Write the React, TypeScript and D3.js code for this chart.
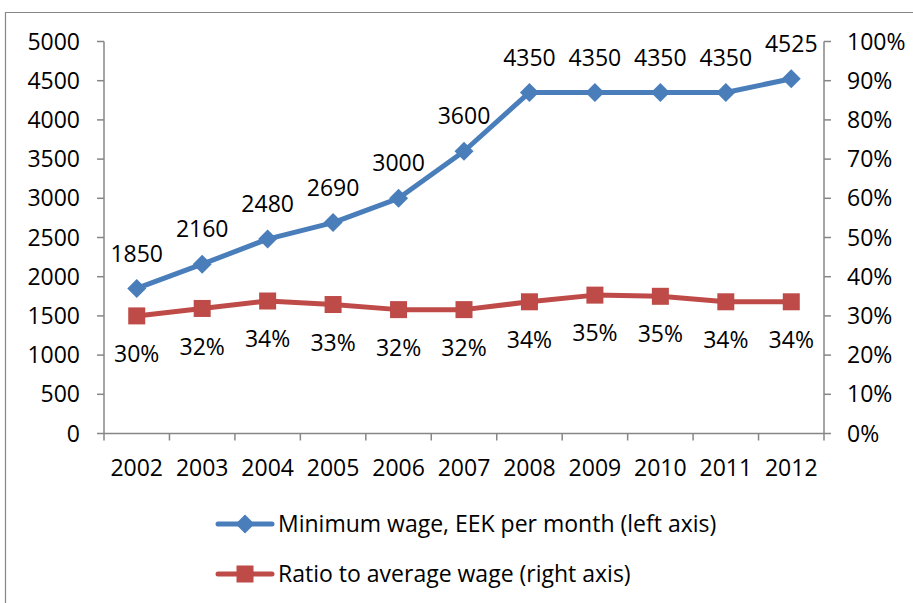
import React from "react";
import * as d3 from "d3";

const years = ["2002","2003","2004","2005","2006","2007","2008","2009","2010","2011","2012"];
const minWage = [1850, 2160, 2480, 2690, 3000, 3600, 4350, 4350, 4350, 4350, 4525];
const ratio = [0.300, 0.319, 0.338, 0.329, 0.316, 0.316, 0.336, 0.353, 0.350, 0.336, 0.336];
const ratioLabels = ["30%","32%","34%","33%","32%","32%","34%","35%","35%","34%","34%"];
const leftTicks = [0, 500, 1000, 1500, 2000, 2500, 3000, 3500, 4000, 4500, 5000];
const rightTicks = [0, 0.1, 0.2, 0.3, 0.4, 0.5, 0.6, 0.7, 0.8, 0.9, 1.0];
const seriesNames = ["Minimum wage, EEK per month (left axis)", "Ratio to average wage (right axis)"];

const BLUE = "#4A7EBB";
const RED = "#BE4B48";
const AXIS = "#868686";
const FONT = "'Open Sans', sans-serif";

export default function App() {
  const W = 913, H = 603;
  const left = 104, right = 824, top = 41.5, bottom = 433.5;
  const x = d3.scaleBand<string>().domain(years).range([left, right]);
  const yL = d3.scaleLinear().domain([0, 5000]).range([bottom, top]);
  const yR = d3.scaleLinear().domain([0, 1]).range([bottom, top]);
  const cx = (y: string) => (x(y) as number) + x.bandwidth() / 2;

  const lineL = d3.line<number>().x((_, i) => cx(years[i])).y((d) => yL(d));
  const lineR = d3.line<number>().x((_, i) => cx(years[i])).y((d) => yR(d));

  const diamond = (px: number, py: number, r: number) =>
    `M${px},${py - r}L${px + r},${py}L${px},${py + r}L${px - r},${py}Z`;

  const bounds = [...years.map((y) => x(y) as number), right];
  const fs = 23;

  return (
    <svg width={W} height={H} style={{ position: "absolute", left: 0, top: 0, background: "#fff" }}>
      <rect x={0} y={0} width={W} height={H} fill="#fff" />
      <path d={`M5.5,${H + 5}V12.5H${W + 5}`} fill="none" stroke={AXIS} strokeWidth={1.2} />
      {/* Left axis */}
      <line x1={left} x2={left} y1={top} y2={bottom} stroke={AXIS} strokeWidth={1.5} />
      {leftTicks.map((t) => (
        <g key={"l" + t}>
          <line x1={left - 7} x2={left} y1={yL(t)} y2={yL(t)} stroke={AXIS} strokeWidth={1.5} />
          <text x={80} y={yL(t)} dy="0.35em" textAnchor="end" fontSize={fs} fontFamily={FONT} fill="#000">
            {t}
          </text>
        </g>
      ))}
      {/* Right axis */}
      <line x1={right} x2={right} y1={top} y2={bottom} stroke={AXIS} strokeWidth={1.5} />
      {rightTicks.map((t) => (
        <g key={"r" + t}>
          <line x1={right} x2={right + 7} y1={yR(t)} y2={yR(t)} stroke={AXIS} strokeWidth={1.5} />
          <text x={847} y={yR(t)} dy="0.35em" textAnchor="start" fontSize={fs} fontFamily={FONT} fill="#000">
            {Math.round(t * 100) + "%"}
          </text>
        </g>
      ))}
      {/* X axis */}
      <line x1={left} x2={right} y1={bottom} y2={bottom} stroke={AXIS} strokeWidth={1.5} />
      {bounds.map((b, i) => (
        <line key={"xt" + i} x1={b} x2={b} y1={bottom} y2={bottom + 7} stroke={AXIS} strokeWidth={1.5} />
      ))}
      {years.map((y) => (
        <text key={"xl" + y} x={cx(y)} y={468} dy="0.35em" textAnchor="middle" fontSize={fs} fontFamily={FONT} fill="#000">
          {y}
        </text>
      ))}
      {/* Series */}
      <path d={lineL(minWage) as string} fill="none" stroke={BLUE} strokeWidth={5} strokeLinejoin="round" />
      {minWage.map((v, i) => (
        <path key={"d" + i} d={diamond(cx(years[i]), yL(v), 9.5)} fill={BLUE} />
      ))}
      <path d={lineR(ratio) as string} fill="none" stroke={RED} strokeWidth={5} strokeLinejoin="round" />
      {ratio.map((v, i) => (
        <rect key={"s" + i} x={cx(years[i]) - 8.5} y={yR(v) - 8.5} width={17} height={17} fill={RED} />
      ))}
      {/* Data labels */}
      {minWage.map((v, i) => (
        <text key={"lb" + i} x={cx(years[i])} y={yL(v) - 35} dy="0.35em" textAnchor="middle" fontSize={fs} fontFamily={FONT} fill="#000">
          {v}
        </text>
      ))}
      {ratio.map((v, i) => (
        <text key={"lr" + i} x={cx(years[i])} y={yR(v) + 38} dy="0.35em" textAnchor="middle" fontSize={fs} fontFamily={FONT} fill="#000">
          {ratioLabels[i]}
        </text>
      ))}
      {/* Legend */}
      <line x1={218} x2={272} y1={524} y2={524} stroke={BLUE} strokeWidth={5} strokeLinecap="round" />
      <path d={diamond(245, 524, 9.5)} fill={BLUE} />
      <text x={278} y={524} dy="0.35em" fontSize={fs} fontFamily={FONT} fill="#000">{seriesNames[0]}</text>
      <line x1={218} x2={272} y1={574} y2={574} stroke={RED} strokeWidth={5} strokeLinecap="round" />
      <rect x={236.5} y={565.5} width={17} height={17} fill={RED} />
      <text x={278} y={574} dy="0.35em" fontSize={fs} fontFamily={FONT} fill="#000">{seriesNames[1]}</text>
    </svg>
  );
}
